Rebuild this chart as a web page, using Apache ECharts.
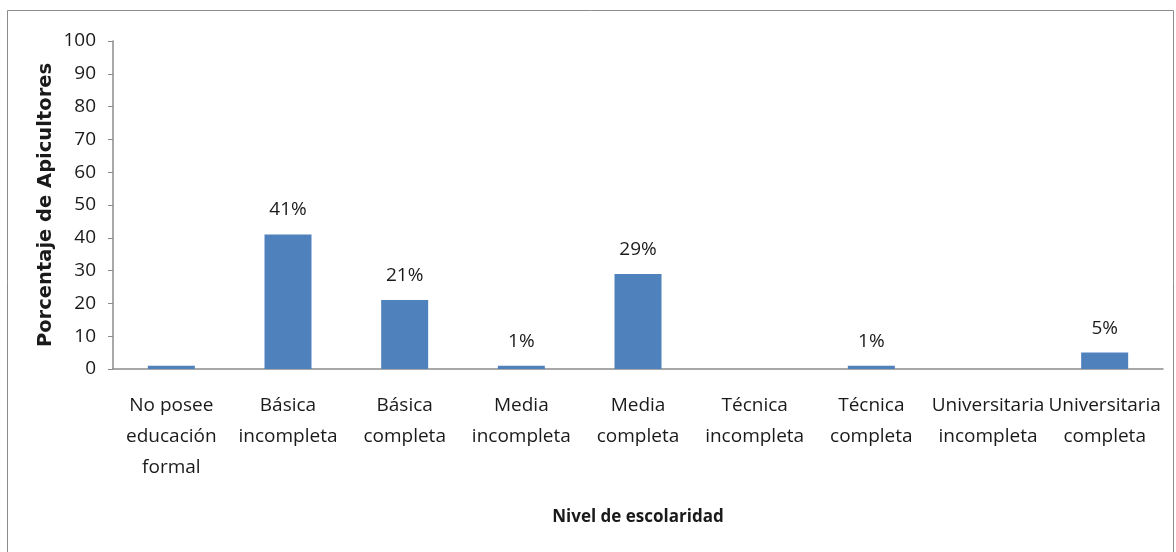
<!DOCTYPE html>
<html>
<head>
<meta charset="utf-8">
<script src="https://cdn.jsdelivr.net/npm/echarts@6/dist/echarts.min.js"></script>
<style>
  html, body { margin: 0; padding: 0; background: #fff; }
  #chart { width: 1176px; height: 552px; }
</style>
</head>
<body>
<div id="chart"></div>
<script>
// Nivel de escolaridad de los apicultores
const categories = [
    'No posee\neducación\nformal',
    'Básica\nincompleta',
    'Básica\ncompleta',
    'Media\nincompleta',
    'Media\ncompleta',
    'Técnica\nincompleta',
    'Técnica\ncompleta',
    'Universitaria\nincompleta',
    'Universitaria\ncompleta'
];
const values = [1, 41, 21, 1, 29, 0, 1, 0, 5];
// qué barras llevan etiqueta de porcentaje
const showLabel = [false, true, true, true, true, false, true, false, true];

const FONT = "'Open Sans', sans-serif";
const TITLE_FONT = "'DejaVu Sans', sans-serif";
const TEXT = '#1a1a1a';
const LINE = '#8c8c8c';

const chart = echarts.init(document.getElementById('chart'));

chart.setOption({
    animation: false,
    textStyle: { fontFamily: FONT },
    graphic: [{
        type: 'rect',
        shape: { x: 7.5, y: 10.5, width: 1166, height: 560 },
        style: { fill: 'none', stroke: LINE, lineWidth: 1 }
    }],
    grid: { left: 113, right: 13, top: 41, bottom: 183 },
    xAxis: {
        type: 'category',
        data: categories,
        name: 'Nivel de escolaridad',
        nameLocation: 'middle',
        nameGap: 140,
        nameTextStyle: { fontFamily: FONT, fontSize: 17, fontWeight: 'bold', color: TEXT },
        axisLine: { lineStyle: { color: LINE, width: 1.5 } },
        axisTick: { show: false },
        axisLabel: {
            interval: 0,
            margin: 21,
            fontSize: 19,
            lineHeight: 31,
            color: TEXT,
            fontFamily: FONT
        }
    },
    yAxis: {
        type: 'value',
        min: 0,
        max: 100,
        interval: 10,
        name: 'Porcentaje de Apicultores',
        nameLocation: 'middle',
        nameGap: 57,
        nameMoveOverlap: false,
        nameTextStyle: { fontFamily: TITLE_FONT, fontSize: 19.5, fontWeight: 'bold', color: TEXT },
        axisLine: { show: true, lineStyle: { color: LINE, width: 1.5 } },
        axisTick: { show: true, length: 5, lineStyle: { color: LINE } },
        splitLine: { show: false },
        axisLabel: { margin: 17, fontSize: 19, color: TEXT, fontFamily: FONT }
    },
    series: [{
        type: 'bar',
        barWidth: 47,
        itemStyle: { color: '#4f81bd' },
        label: {
            position: 'top',
            distance: 15,
            fontSize: 19,
            color: TEXT,
            fontFamily: FONT,
            formatter: '{c}%'
        },
        data: values.map((v, i) => ({ value: v, label: { show: showLabel[i] } }))
    }]
});
</script>
</body>
</html>
